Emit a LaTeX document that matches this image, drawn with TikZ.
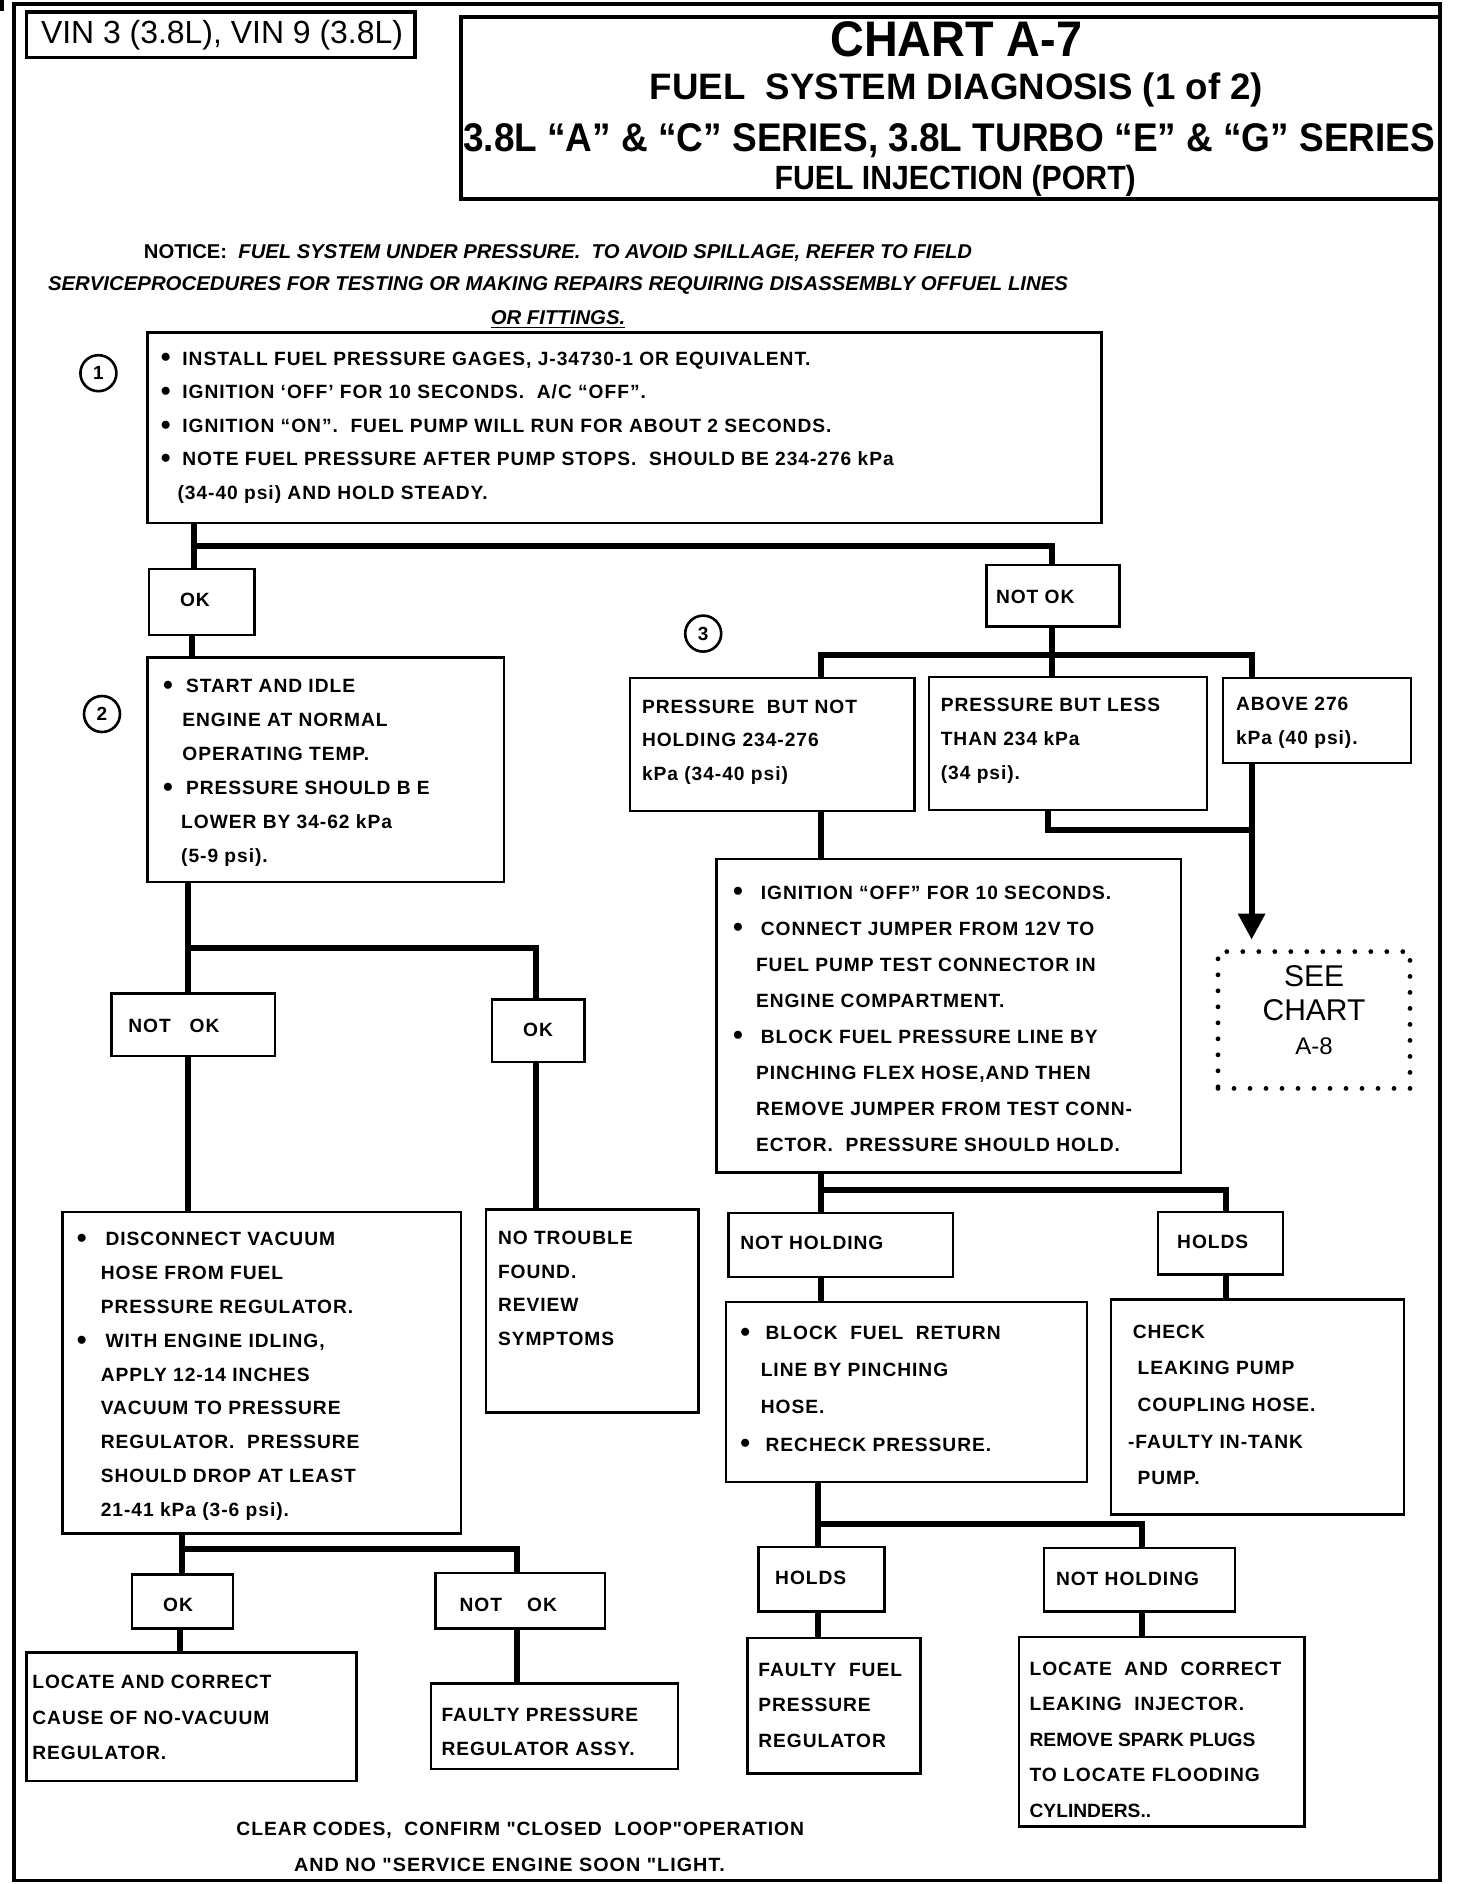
\documentclass[tikz,border=0pt]{standalone}
\usepackage{fontspec}
\usepackage{graphicx}
\setmainfont{Liberation Sans}
\newfontfamily\bodyfont{Liberation Sans}[LetterSpace=5]
\newfontfamily\plainsans{Liberation Sans}
\usetikzlibrary{fit,arrows.meta}
\newcommand\fsz[2]{\fontsize{#1}{#2}\selectfont}
\newcommand\bul[1][10.8pt]{\makebox[#1][l]{\raisebox{-0.9pt}{\plainsans\fsz{14}{14}•}}}
\begin{document}
\begin{tikzpicture}[x=0.6pt,y=-0.6pt,
  box/.style={draw, line width=1.2pt, inner sep=0pt, outer sep=0pt, rectangle},
  hbox/.style={draw, line width=1.8pt, inner sep=0pt, outer sep=0pt, rectangle},
  conn/.style={line width=3pt},
  txt/.style={inner sep=0pt, outer sep=0pt, anchor=north west, align=left},
  lbl/.style={inner sep=0pt, outer sep=0pt, anchor=west},
  body/.style={font={\bodyfont\bfseries\fsz{9.6}{#1}}},
  body/.default=16.8,
  num/.style={draw, circle, line width=1.3pt, minimum size=18pt, inner sep=0pt, font={\bfseries\fsz{9.5}{9.5}}}
]
\useasboundingbox (0,0) rectangle (1213.33,1570);
\fill (0,0) rectangle (3,9);
\draw[line width=1.8pt] (11.5,3.5) rectangle (1200,1567);

% header
\node[hbox, fit={(22,10) (346,48)}] (vin) {};
\node[inner sep=0pt] (vint) at (185,29) {\resizebox{181pt}{\height}{\fsz{16}{16}VIN 3 (3.8L), VIN 9 (3.8L)}};
\node[hbox, fit={(384,14) (1200,166)}] (title) {};
\node[inner sep=0pt] (ti1) at (797,33) {\resizebox{126pt}{\height}{\bfseries\fsz{25}{25}CHART A-7}};
\node[inner sep=0pt] (ti2) at (797,75) {\resizebox{306.6pt}{\height}{\bfseries\fsz{18.4}{18.4}FUEL\ \ SYSTEM DIAGNOSIS (1 of 2)}};
\node[inner sep=0pt] (ti3) at (791,117) {\resizebox{486pt}{\height}{\bfseries\fsz{20}{20}3.8L “A” \& “C” SERIES, 3.8L TURBO “E” \& “G” SERIES}};
\node[inner sep=0pt] (ti4) at (796,151) {\resizebox{180.6pt}{\height}{\bfseries\fsz{16.8}{16.8}FUEL INJECTION (PORT)}};

% notice
\node[inner sep=0pt] (no1) at (465,211) {\resizebox{414pt}{\height}{\bfseries\fsz{10}{12}NOTICE:\ \ \itshape FUEL SYSTEM UNDER PRESSURE.\ \ TO AVOID SPILLAGE, REFER TO FIELD}};
\node[inner sep=0pt] (no2) at (465,238) {\resizebox{510pt}{\height}{\bfseries\itshape\fsz{10}{12}SERVICEPROCEDURES FOR TESTING OR MAKING REPAIRS REQUIRING DISASSEMBLY OFFUEL LINES}};
\node[inner sep=0pt] (no3) at (465,266) {\resizebox{67.2pt}{\height}{\bfseries\itshape\fsz{10}{12}\underline{OR FITTINGS.}}};

% step numbers
\node[num] (n1) at (82,311) {1};
\node[num] (n2) at (85,595) {2};
\node[num] (n3) at (586,528) {3};

% boxes
\node[box, fit={(123,277) (918,436)}] (b1) {};
\node[box, fit={(124,474) (212,529)}] (ok1) {};
\node[box, fit={(822,471) (933,522)}] (nok1) {};
\node[box, fit={(123,548) (420,735)}] (b2) {};
\node[box, fit={(525,565) (762,676)}] (bA) {};
\node[box, fit={(774,564) (1006,675)}] (bB) {};
\node[box, fit={(1019,565) (1176,636)}] (bC) {};
\node[draw, line width=2.4pt, dash pattern=on 0pt off 8pt, line cap=round, inner sep=0pt, outer sep=0pt, fit={(1015,793) (1175,907)}] (see) {};
\node[box, fit={(597,716) (984,977)}] (bD) {};
\node[box, fit={(607,1011) (794,1064)}] (nh1) {};
\node[box, fit={(965,1010) (1069,1062)}] (h1) {};
\node[box, fit={(605,1085) (906,1235)}] (bE) {};
\node[box, fit={(926,1083) (1170,1262)}] (bF) {};
\node[box, fit={(632,1289) (737,1343)}] (h2) {};
\node[box, fit={(870,1290) (1029,1343)}] (nh2) {};
\node[box, fit={(623,1365) (767,1478)}] (bG) {};
\node[box, fit={(849,1364) (1087,1522)}] (bH) {};
\node[box, fit={(93,828) (229,880)}] (nok2) {};
\node[box, fit={(410,833) (487,885)}] (ok2) {};
\node[box, fit={(52,1010) (384,1278)}] (bI) {};
\node[box, fit={(405,1008) (582,1177)}] (bJ) {};
\node[box, fit={(110,1312) (194,1357)}] (ok3) {};
\node[box, fit={(363,1311) (504,1357)}] (nok3) {};
\node[box, fit={(22,1377) (297,1484)}] (bK) {};
\node[box, fit={(359,1403) (565,1474)}] (bL) {};

% texts
\node[txt, body=16.8] (t1) at (134,293) {\bul INSTALL FUEL PRESSURE GAGES, J-34730-1 OR EQUIVALENT.\\
\bul IGNITION ‘OFF’ FOR 10 SECONDS.\ \ A/C “OFF”.\\
\bul IGNITION “ON”.\ \ FUEL PUMP WILL RUN FOR ABOUT 2 SECONDS.\\
\bul NOTE FUEL PRESSURE AFTER PUMP STOPS.\ \ SHOULD BE 234-276 kPa\\
\hspace*{8.4pt}(34-40 psi) AND HOLD STEADY.};
\node[lbl, body] (tok1) at (150,500) {OK};
\node[lbl, body] (tnok1) at (830,497) {NOT OK};
\node[txt, body=17] (t2) at (136,566) {\bul[11.4pt]START AND IDLE\\
\hspace*{9.6pt}ENGINE AT NORMAL\\
\hspace*{9.6pt}OPERATING TEMP.\\
\bul[11.4pt]PRESSURE SHOULD B E\\
\hspace*{9pt}LOWER BY 34-62 kPa\\
\hspace*{9pt}(5-9 psi).};
\node[txt, body=16.8] (tA) at (535,583) {PRESSURE\ \ BUT NOT\\HOLDING 234-276\\kPa (34-40 psi)};
\node[txt, body=16.8] (tB) at (784,582) {PRESSURE BUT LESS\\THAN 234 kPa\\(34 psi).};
\node[txt, body=16.8] (tC) at (1030,581) {ABOVE 276\\kPa (40 psi).};
\node[inner sep=0pt, anchor=north, align=center, font={\fsz{15}{17.1}}] (tsee) at (1095,804) {SEE\\CHART\\{\fsz{12}{17.1}A-8}};
\node[txt, body=18] (tD) at (611,738) {\bul[13.8pt]IGNITION “OFF” FOR 10 SECONDS.\\
\bul[13.8pt]CONNECT JUMPER FROM 12V TO\\
\hspace*{11.4pt}FUEL PUMP TEST CONNECTOR IN\\
\hspace*{11.4pt}ENGINE COMPARTMENT.\\
\bul[13.8pt]BLOCK FUEL PRESSURE LINE BY\\
\hspace*{11.4pt}PINCHING FLEX HOSE,AND THEN\\
\hspace*{11.4pt}REMOVE JUMPER FROM TEST CONN-\\
\hspace*{11.4pt}ECTOR.\ \ PRESSURE SHOULD HOLD.};
\node[lbl, body] (tnh1) at (617,1036) {NOT HOLDING};
\node[lbl, body] (th1) at (981,1035) {HOLDS};
\node[txt, body=18.6] (tE) at (617,1105) {\bul[12.6pt]BLOCK\ \ FUEL\ \ RETURN\\
\hspace*{10.2pt}LINE BY PINCHING\\
\hspace*{10.2pt}HOSE.\\
\bul[12.6pt]RECHECK PRESSURE.};
\node[txt, body=18.3] (tF) at (940,1104) {\hspace*{2.4pt}CHECK\\
\hspace*{4.8pt}LEAKING PUMP\\
\hspace*{4.8pt}COUPLING HOSE.\\
-FAULTY IN-TANK\\
\hspace*{4.8pt}PUMP.};
\node[lbl, body] (th2) at (646,1315) {HOLDS};
\node[lbl, body] (tnh2) at (880,1316) {NOT HOLDING};
\node[txt, body=17.7] (tG) at (632,1386) {FAULTY\ \ FUEL\\PRESSURE\\REGULATOR};
\node[txt, body=17.7] (tH) at (858,1385) {LOCATE\ \ AND\ \ CORRECT\\
LEAKING\ \ INJECTOR.\\
{\plainsans\bfseries REMOVE SPARK PLUGS}\\
TO LOCATE FLOODING\\
{\plainsans\bfseries CYLINDERS..}};
\node[lbl, body] (tnok2) at (107,855) {NOT\ \ \ OK};
\node[lbl, body] (tok2) at (436,858) {OK};
\node[txt, body=16.9] (tI) at (64,1027) {\bul[14.4pt]DISCONNECT VACUUM\\
\hspace*{12pt}HOSE FROM FUEL\\
\hspace*{12pt}PRESSURE REGULATOR.\\
\bul[14.4pt]WITH ENGINE IDLING,\\
\hspace*{12pt}APPLY 12-14 INCHES\\
\hspace*{12pt}VACUUM TO PRESSURE\\
\hspace*{12pt}REGULATOR.\ \ PRESSURE\\
\hspace*{12pt}SHOULD DROP AT LEAST\\
\hspace*{12pt}21-41 kPa (3-6 psi).};
\node[txt, body=16.8] (tJ) at (415,1026) {NO TROUBLE\\FOUND.\\REVIEW\\SYMPTOMS};
\node[lbl, body] (tok3) at (136,1337) {OK};
\node[lbl, body] (tnok3) at (383,1337) {NOT\ \ \ \ OK};
\node[txt, body=17.7] (tK) at (27,1396) {LOCATE AND CORRECT\\CAUSE OF NO-VACUUM\\REGULATOR.};
\node[txt, body=17.4] (tL) at (368,1423) {FAULTY PRESSURE\\REGULATOR ASSY.};
\node[lbl] (bot1) at (197,1525) {\resizebox{283.8pt}{\height}{\bodyfont\bfseries\fsz{9.6}{12}CLEAR CODES,\ \ CONFIRM "CLOSED\ \ LOOP"OPERATION}};
\node[lbl] (bot2) at (245,1554) {\resizebox{215.4pt}{\height}{\bodyfont\bfseries\fsz{9.6}{12}AND NO "SERVICE ENGINE SOON "LIGHT.}};

% connectors
\coordinate (c1) at (162,455); \coordinate (c1r) at (877,455);
\draw[conn] (b1.south -| c1) -- (ok1.north -| c1);
\draw[conn] (c1) -- (c1r) -- (nok1.north -| c1r);
\coordinate (c2) at (160,540);
\draw[conn] (ok1.south -| c2) -- (b2.north -| c2);
\coordinate (c3) at (157,790); \coordinate (c3r) at (447,790);
\draw[conn] (b2.south -| c3) -- (nok2.north -| c3);
\draw[conn] (c3) -- (c3r) -- (ok2.north -| c3r);
\draw[conn] (nok2.south -| c3) -- (bI.north -| c3);
\draw[conn] (ok2.south -| c3r) -- (bJ.north -| c3r);
\coordinate (c4) at (152,1291); \coordinate (c4r) at (431,1291);
\draw[conn] (bI.south -| c4) -- (ok3.north -| c4);
\draw[conn] (c4) -- (c4r) -- (nok3.north -| c4r);
\coordinate (c5) at (150,1367);
\draw[conn] (ok3.south -| c5) -- (bK.north -| c5);
\draw[conn] (nok3.south -| c4r) -- (bL.north -| c4r);
\coordinate (c6) at (877,546); \coordinate (c6l) at (684,546); \coordinate (c6r) at (1043,546);
\draw[conn] (nok1.south -| c6) -- (bB.north -| c6);
\draw[conn] (bA.north -| c6l) -- (c6l) -- (c6r) -- (bC.north -| c6r);
\coordinate (c7) at (873,692); \coordinate (c7r) at (1043,692);
\draw[conn] (bB.south -| c7) -- (c7) -- (c7r);
\coordinate (tip) at (1043,783);
\draw[conn, -{Triangle[width=13pt,length=13pt]}] (bC.south -| c6r) -- (tip);
\draw[conn] (bA.south -| c6l) -- (bD.north -| c6l);
\coordinate (c8) at (684,992); \coordinate (c8r) at (1022,992);
\draw[conn] (bD.south -| c8) -- (nh1.north -| c8);
\draw[conn] (c8) -- (c8r) -- (h1.north -| c8r);
\draw[conn] (nh1.south -| c8) -- (bE.north -| c8);
\draw[conn] (h1.south -| c8r) -- (bF.north -| c8r);
\coordinate (c9) at (682,1270); \coordinate (c9r) at (952,1270);
\draw[conn] (bE.south -| c9) -- (h2.north -| c9);
\draw[conn] (c9) -- (c9r) -- (nh2.north -| c9r);
\draw[conn] (h2.south -| c9) -- (bG.north -| c9);
\draw[conn] (nh2.south -| c9r) -- (bH.north -| c9r);
\end{tikzpicture}
\end{document}
